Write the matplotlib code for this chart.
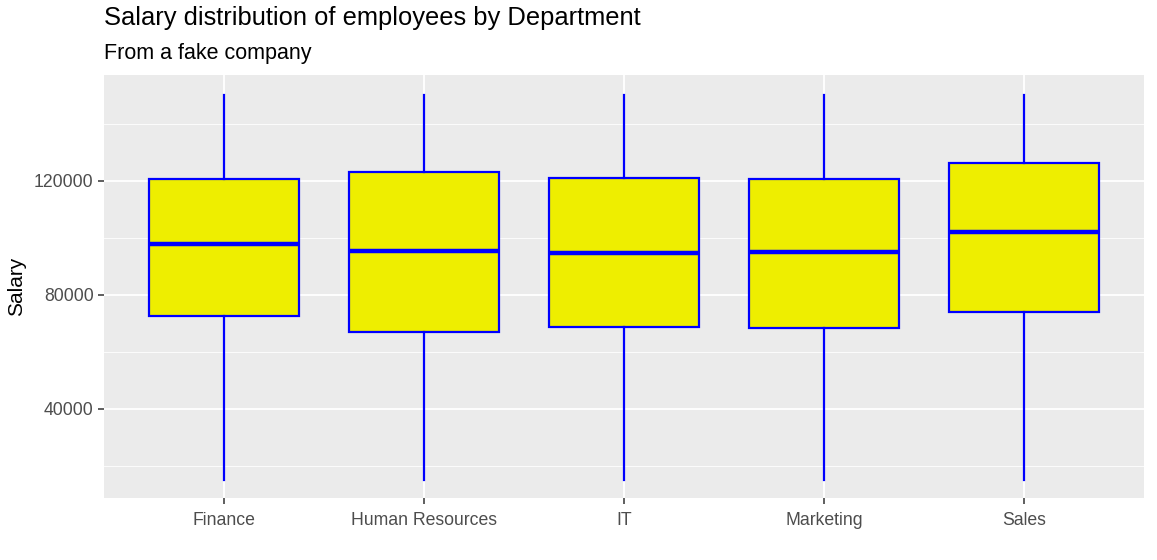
import matplotlib
matplotlib.use("Agg")
import matplotlib.pyplot as plt

plt.rcParams["font.family"] = ["Liberation Sans", "DejaVu Sans"]

# Values (ggplot boxplot)
departments = ["Finance", "Human Resources", "IT", "Marketing", "Sales"]
whisker_low = [15000, 15000, 15000, 15000, 15000]
q1 = [72600, 67000, 68800, 68400, 74000]
median = [97900, 95400, 94700, 95000, 102100]
q3 = [120400, 123100, 121000, 120400, 126300]
whisker_high = [150000, 150000, 150000, 150000, 150000]
y_ticks = [40000, 80000, 120000]

BG = "#EBEBEB"
FILL = "#EEEE00"
EDGE = "#0000FF"

fig = plt.figure(figsize=(11.57, 5.6), dpi=100)
ax = fig.add_axes([104 / 1157, 1 - 498 / 560, (1144 - 104) / 1157, (498 - 75) / 560])
ax.set_facecolor(BG)

stats = []
for i, d in enumerate(departments):
    stats.append({"label": d, "whislo": whisker_low[i], "q1": q1[i], "med": median[i],
                  "q3": q3[i], "whishi": whisker_high[i], "fliers": []})

pos = list(range(1, len(departments) + 1))
ax.bxp(stats, positions=pos, widths=0.75, patch_artist=True, showcaps=False,
       boxprops=dict(facecolor=FILL, edgecolor=EDGE, linewidth=1.6),
       whiskerprops=dict(color=EDGE, linewidth=1.6),
       medianprops=dict(color=EDGE, linewidth=3.2), zorder=3)

ax.set_ylim(8800, 157000)
ax.set_xlim(0.4, len(departments) + 0.6)

ax.set_yticks(y_ticks)
ax.set_yticklabels([str(t) for t in y_ticks])
ax.set_yticks([20000, 60000, 100000, 140000], minor=True)
ax.set_xticks(pos)
ax.set_xticklabels(departments, va="baseline")

ax.grid(which="major", color="white", linewidth=1.3, zorder=0)
ax.grid(which="minor", axis="y", color="white", linewidth=0.6, zorder=0)
ax.set_axisbelow(True)
for s in ax.spines.values():
    s.set_visible(False)
ax.tick_params(axis="both", which="major", length=4, width=1.1, color="#333333",
               labelcolor="#4D4D4D", labelsize=12.7)
ax.tick_params(axis="y", which="minor", length=0)
ax.tick_params(axis="x", pad=15.5)

ax.set_ylabel("Salary", fontsize=15, color="black", labelpad=6)
fig.text(104 / 1157, 1 - 18 / 560, "Salary distribution of employees by Department",
         fontsize=18.4, va="center", ha="left")
fig.text(104 / 1157, 1 - 53 / 560, "From a fake company",
         fontsize=15.5, va="center", ha="left")

fig.savefig("out.png", dpi=100)
